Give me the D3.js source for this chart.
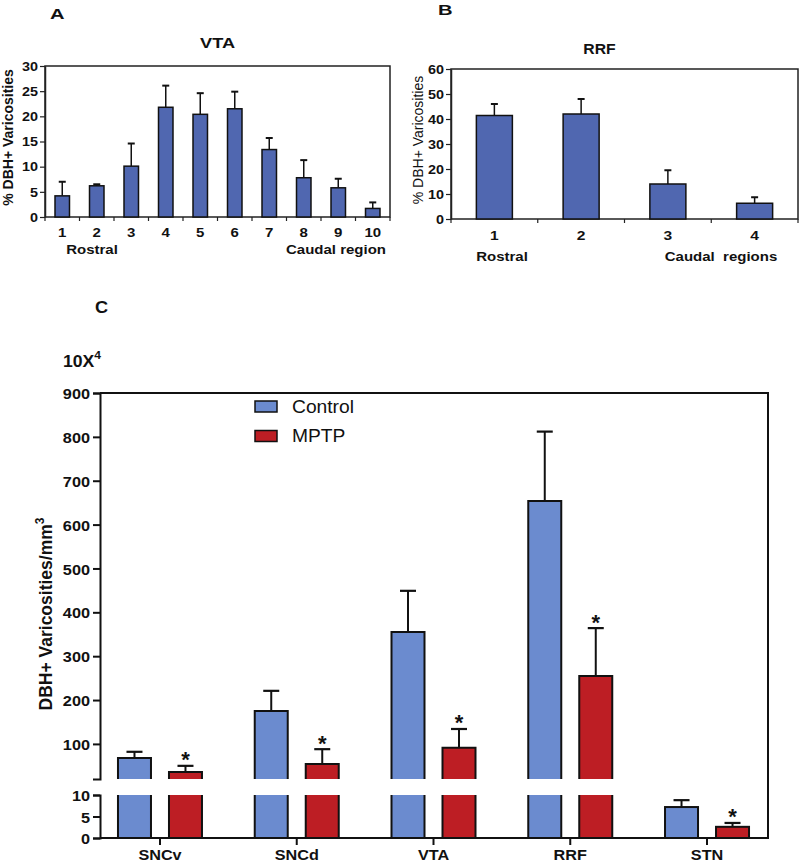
<!DOCTYPE html>
<html>
<head>
<meta charset="utf-8">
<script src="https://cdn.jsdelivr.net/npm/d3@7"></script>
<style>
  body { margin: 0; background: #fff; }
  svg { display: block; font-family: 'Liberation Sans', Arial, sans-serif; }
</style>
</head>
<body>
<svg id="chart" width="800" height="863"></svg>
<script>
// panel A: VTA rostro-caudal distribution
const vtaRegions = ['1', '2', '3', '4', '5', '6', '7', '8', '9', '10']
const vtaMean = [4.2, 6.2, 10.1, 21.8, 20.4, 21.5, 13.4, 7.8, 5.8, 1.7]
const vtaSem = [2.8, 0.3, 4.5, 4.3, 4.2, 3.4, 2.3, 3.5, 1.8, 1.2]
const vtaTicks = [0, 5, 10, 15, 20, 25, 30]

// panel B: RRF rostro-caudal distribution
const rrfRegions = ['1', '2', '3', '4']
const rrfMean = [41.4, 42, 14, 6.3]
const rrfSem = [4.6, 6, 5.5, 2.4]
const rrfTicks = [0, 10, 20, 30, 40, 50, 60]

// panel C: density, control vs MPTP (x 10^4)
const areas = ['SNCv', 'SNCd', 'VTA', 'RRF', 'STN']
const controlMean = [68, 175, 355, 654, 7.2]
const controlSem = [14, 46, 94, 158, 1.6]
const mptpMean = [36, 54, 91, 255, 2.6]
const mptpSem = [14, 34, 43, 109, 0.9]
const upperTicks = [100, 200, 300, 400, 500, 600, 700, 800, 900]
const lowerTicks = [0, 5, 10]
const groups = ['Control', 'MPTP']

const blueAB = '#5067b0'
const colors = { Control: '#6b8bcf', MPTP: '#bd1e24' }
const ink = '#111'

const svg = d3.select('#chart')

function smallPanel (o) {
  const g = svg.append('g')
  const x = d3.scaleBand().domain(o.cats).range([o.left, o.right])
    .paddingInner(o.pad).paddingOuter(o.pad / 2)
  const y = d3.scaleLinear().domain([0, o.max]).range([o.bottom, o.top])

  g.append('rect')
    .attr('x', o.left).attr('y', o.top)
    .attr('width', o.right - o.left).attr('height', o.bottom - o.top)
    .attr('fill', 'none').attr('stroke', '#222').attr('stroke-width', 1.5)

  const yAxis = g.append('g')
    .attr('transform', `translate(${o.left},0)`)
    .call(d3.axisLeft(y).tickValues(o.ticks).tickSize(5).tickSizeOuter(0))
    .attr('font-family', null)
  yAxis.select('.domain').attr('stroke', '#222').attr('stroke-width', 1.5)
  yAxis.selectAll('.tick line').attr('stroke', '#222').attr('stroke-width', 1.2)
  yAxis.selectAll('text')
    .attr('x', 0).attr('dy', '0.36em')
    .attr('transform', `translate(-7,0) scale(${o.stretch},1)`)
    .attr('font-size', 12).attr('font-weight', 'bold').attr('fill', ink)

  const xAxis = g.append('g')
    .attr('transform', `translate(0,${o.bottom})`)
    .call(d3.axisBottom(x).tickSize(0))
    .attr('font-family', null)
  xAxis.select('.domain').remove()
  xAxis.selectAll('text')
    .attr('y', o.labelY).attr('dy', 0)
    .attr('transform', `scale(${o.stretch},1)`)
    .attr('font-size', o.xFont).attr('font-weight', 'bold').attr('fill', ink)

  // small ticks at category boundaries
  g.selectAll('line.edge')
    .data(d3.range(o.cats.length + 1))
    .join('line')
    .attr('class', 'edge')
    .attr('x1', i => o.left + i * x.step()).attr('x2', i => o.left + i * x.step())
    .attr('y1', o.bottom).attr('y2', o.bottom + 4)
    .attr('stroke', '#222').attr('stroke-width', 1.2)

  const data = o.cats.map((c, i) => ({ c, m: o.mean[i], e: o.sem[i] }))

  g.selectAll('line.err')
    .data(data)
    .join('line')
    .attr('class', 'err')
    .attr('x1', d => x(d.c) + x.bandwidth() / 2).attr('x2', d => x(d.c) + x.bandwidth() / 2)
    .attr('y1', d => y(d.m)).attr('y2', d => y(d.m + d.e))
    .attr('stroke', ink).attr('stroke-width', 1.5)

  g.selectAll('line.cap')
    .data(data)
    .join('line')
    .attr('class', 'cap')
    .attr('x1', d => x(d.c) + x.bandwidth() / 2 - 3.5).attr('x2', d => x(d.c) + x.bandwidth() / 2 + 3.5)
    .attr('y1', d => y(d.m + d.e)).attr('y2', d => y(d.m + d.e))
    .attr('stroke', ink).attr('stroke-width', 2)

  g.selectAll('rect.bar')
    .data(data)
    .join('rect')
    .attr('class', 'bar')
    .attr('x', d => x(d.c)).attr('width', x.bandwidth())
    .attr('y', d => y(d.m)).attr('height', d => o.bottom - y(d.m))
    .attr('fill', blueAB).attr('stroke', ink).attr('stroke-width', 1.5)

  g.append('text')
    .attr('transform', `translate(${o.letterX},${o.letterY}) scale(1.3,1)`)
    .attr('font-size', 15.5).attr('font-weight', 'bold').attr('fill', ink)
    .text(o.letter)

  g.append('text')
    .attr('transform', `translate(${(o.left + o.right) / 2 + o.titleDx},${o.titleY}) scale(${o.titleStretch},1)`)
    .attr('text-anchor', 'middle')
    .attr('font-size', o.titleFont).attr('font-weight', 'bold').attr('fill', ink)
    .text(o.title)

  g.append('text')
    .attr('transform', `translate(${o.yTitleX},${(o.top + o.bottom) / 2 - 4}) rotate(-90)`)
    .attr('text-anchor', 'middle')
    .attr('font-size', 14).attr('font-weight', o.yTitleWeight).attr('fill', ink)
    .text('% DBH+ Varicosities')

  o.notes.forEach(n => {
    g.append('text')
      .attr('transform', `translate(${n.x},${n.y}) scale(${o.stretch},1)`)
      .attr('text-anchor', 'middle')
      .attr('font-size', 12.5).attr('font-weight', 'bold').attr('fill', ink)
      .attr('xml:space', 'preserve')
      .text(n.t)
  })
}

smallPanel({
  cats: vtaRegions, mean: vtaMean, sem: vtaSem, ticks: vtaTicks, max: 30,
  left: 45, right: 390, top: 66, bottom: 217, pad: 0.58, stretch: 1.2,
  labelY: 20, xFont: 12.5,
  letter: 'A', letterX: 50, letterY: 19,
  title: 'VTA', titleDx: 0, titleY: 48, titleFont: 14, titleStretch: 1.3,
  yTitleX: 13, yTitleWeight: 'bold',
  notes: [{ t: 'Rostral', x: 92, y: 254 }, { t: 'Caudal region', x: 336, y: 254 }]
})

smallPanel({
  cats: rrfRegions, mean: rrfMean, sem: rrfSem, ticks: rrfTicks, max: 60,
  left: 451, right: 798, top: 69, bottom: 219, pad: 0.585, stretch: 1.2,
  labelY: 21, xFont: 13,
  letter: 'B', letterX: 438, letterY: 15,
  title: 'RRF', titleDx: -25, titleY: 54, titleFont: 15, titleStretch: 1.05,
  yTitleX: 423, yTitleWeight: 'normal',
  notes: [{ t: 'Rostral', x: 502, y: 261 }, { t: 'Caudal  regions', x: 721, y: 261 }]
})

// ---- panel C, broken y axis ----
const cLeft = 100
const cRight = 768
const cTop = 393
const cBottom = 838
const upperBase = 20

const xC = d3.scaleBand().domain(areas).range([91.6, 775.4])
const yU = d3.scaleLinear().domain([upperBase, 900]).range([779, cTop])
const yL = d3.scaleLinear().domain([0, 10]).range([cBottom, 795])
const yC = v => v > 10 ? yU(v) : yL(v)
const bw = 33
const offset = { Control: -25.5, MPTP: 25.5 }

const gc = svg.append('g')

const cData = []
areas.forEach((a, i) => {
  cData.push({ a, s: 'Control', m: controlMean[i], e: controlSem[i] })
  cData.push({ a, s: 'MPTP', m: mptpMean[i], e: mptpSem[i] })
})
const cx = d => xC(d.a) + xC.bandwidth() / 2 + offset[d.s]

// error bars
gc.selectAll('line.err')
  .data(cData)
  .join('line')
  .attr('class', 'err')
  .attr('x1', cx).attr('x2', cx)
  .attr('y1', d => yC(d.m)).attr('y2', d => yC(d.m + d.e))
  .attr('stroke', ink).attr('stroke-width', 2)

gc.selectAll('line.cap')
  .data(cData)
  .join('line')
  .attr('class', 'cap')
  .attr('x1', d => cx(d) - 8).attr('x2', d => cx(d) + 8)
  .attr('y1', d => yC(d.m + d.e)).attr('y2', d => yC(d.m + d.e))
  .attr('stroke', ink).attr('stroke-width', 2.2)

// bars: upper part and lower part when the value crosses the break
cData.forEach(d => {
  const x0 = cx(d) - bw / 2
  const col = colors[d.s]
  if (d.m > 10) {
    gc.append('rect')
      .attr('x', x0).attr('y', yU(d.m)).attr('width', bw).attr('height', yU(upperBase) - yU(d.m))
      .attr('fill', col)
    gc.append('path')
      .attr('d', `M${x0},${yU(upperBase)}V${yU(d.m)}H${x0 + bw}V${yU(upperBase)}`)
      .attr('fill', 'none').attr('stroke', ink).attr('stroke-width', 2)
    gc.append('rect')
      .attr('x', x0).attr('y', yL(10)).attr('width', bw).attr('height', yL(0) - yL(10))
      .attr('fill', col)
    gc.append('path')
      .attr('d', `M${x0},${yL(10)}V${yL(0)}M${x0 + bw},${yL(10)}V${yL(0)}`)
      .attr('fill', 'none').attr('stroke', ink).attr('stroke-width', 2)
  } else {
    gc.append('rect')
      .attr('x', x0).attr('y', yL(d.m)).attr('width', bw).attr('height', yL(0) - yL(d.m))
      .attr('fill', col).attr('stroke', ink).attr('stroke-width', 2)
  }
})

// significance stars on MPTP bars
gc.selectAll('text.star')
  .data(cData.filter(d => d.s === 'MPTP'))
  .join('text')
  .attr('class', 'star')
  .attr('x', cx).attr('y', d => yC(d.m + d.e) + 1.5)
  .attr('text-anchor', 'middle')
  .attr('font-size', 22).attr('font-weight', 'bold').attr('fill', ink)
  .text('*')

// frame
gc.append('path')
  .attr('d', `M${cLeft},${cTop}H${cRight}V${cBottom}H${cLeft}`)
  .attr('fill', 'none').attr('stroke', ink).attr('stroke-width', 2)

function styleLeft (sel) {
  sel.attr('font-family', null)
  sel.select('.domain').attr('stroke', ink).attr('stroke-width', 2)
  sel.selectAll('.tick line').attr('stroke', ink).attr('stroke-width', 2)
  sel.selectAll('text')
    .attr('x', 0).attr('dy', '0.36em')
    .attr('transform', 'translate(-10,0) scale(1.05,1)')
    .attr('font-size', 15.5).attr('font-weight', 'bold').attr('fill', ink)
}

gc.append('g')
  .attr('transform', `translate(${cLeft},0)`)
  .call(d3.axisLeft(yU).tickValues(upperTicks).tickSize(7).tickSizeOuter(7))
  .call(styleLeft)

gc.append('g')
  .attr('transform', `translate(${cLeft},0)`)
  .call(d3.axisLeft(yL).tickValues(lowerTicks).tickSize(7).tickSizeOuter(7))
  .call(styleLeft)

const xAxisC = gc.append('g')
  .attr('transform', `translate(0,${cBottom})`)
  .call(d3.axisBottom(xC).tickSize(7).tickSizeOuter(0))
  .attr('font-family', null)
xAxisC.select('.domain').remove()
xAxisC.selectAll('.tick line').attr('stroke', ink).attr('stroke-width', 2)
xAxisC.selectAll('text')
  .attr('y', 22).attr('dy', 0)
  .attr('transform', 'scale(1.08,1)')
  .attr('font-size', 15).attr('font-weight', 'bold').attr('fill', ink)

// y title with superscript
const yTitle = gc.append('text')
  .attr('transform', `translate(52,614) rotate(-90)`)
  .attr('text-anchor', 'middle')
  .attr('font-size', 17.5).attr('font-weight', 'bold').attr('fill', ink)
yTitle.append('tspan').text('DBH+ Varicosities/mm')
yTitle.append('tspan').attr('dy', -8).attr('font-size', 12).text('3')

gc.append('text')
  .attr('transform', 'translate(95,313) scale(1.1,1)')
  .attr('font-size', 16.5).attr('font-weight', 'bold').attr('fill', ink)
  .text('C')

const mult = gc.append('text')
  .attr('transform', 'translate(63,367) scale(1.1,1)')
  .attr('font-size', 16).attr('font-weight', 'bold').attr('fill', ink)
mult.append('tspan').text('10X')
mult.append('tspan').attr('dy', -8).attr('font-size', 11).text('4')

// legend
const leg = gc.selectAll('g.leg')
  .data(groups)
  .join('g')
  .attr('class', 'leg')
  .attr('transform', (d, i) => `translate(255,${401 + i * 29.5})`)
leg.append('rect')
  .attr('width', 22).attr('height', 11)
  .attr('fill', d => colors[d]).attr('stroke', ink).attr('stroke-width', 1.5)
leg.append('text')
  .attr('transform', 'translate(37,11.5) scale(1.1,1)')
  .attr('font-size', 17.5).attr('fill', ink)
  .text(d => d)
</script>
</body>
</html>
